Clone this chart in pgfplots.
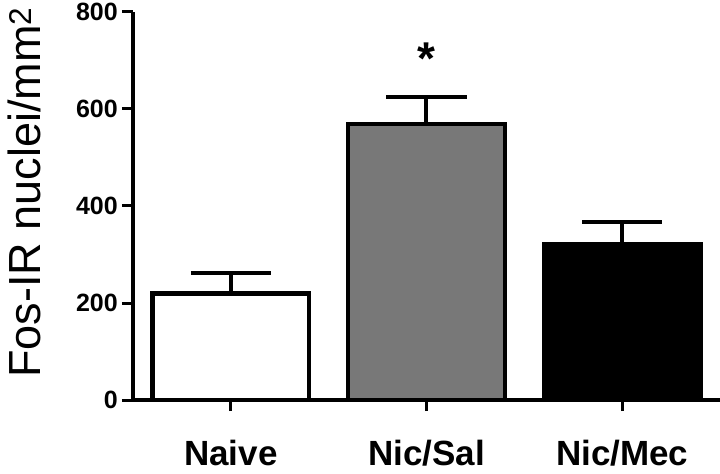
\documentclass[border=0pt]{standalone}
\usepackage{pgfplots}
\pgfplotsset{compat=1.18}
\usepackage{fontspec}
\setmainfont{Liberation Sans}
\definecolor{bargray}{HTML}{787878}
\newcommand\ytf{\fontsize{25bp}{30bp}\selectfont\bfseries}
\begin{document}
\begin{tikzpicture}
\begin{axis}[
  scale only axis,
  width=587bp, height=388bp,
  xmin=-0.5, xmax=2.5,
  ymin=0, ymax=800,
  axis x line=bottom, axis y line=left,
  axis line style={line width=4bp, -},
  every tick/.style={line width=3bp, black},
  tick align=outside,
  major tick length=11bp,
  xtick={0,1,2},
  xticklabels={Naive, Nic/Sal, Nic/Mec},
  ytick={0,200,400,600,800},
  yticklabels={{\ytf 0},{\ytf 200},{\ytf 400},{\ytf 600},{\ytf 800}},
  yticklabel style={inner sep=0pt, anchor=east, xshift=-4bp},
  xticklabel style={font=\fontsize{35bp}{40bp}\selectfont\bfseries, inner sep=0pt, anchor=north, yshift=-29bp},
  ylabel={Fos-IR nuclei/mm\textsuperscript{2}},
  ylabel style={font=\fontsize{45bp}{50bp}\selectfont, at={(axis description cs:-0.158,0.535)}, anchor=base, rotate=0},
  ybar, bar width=0.8, bar shift=0pt,
  clip=false,
  error bars/y dir=plus, error bars/y explicit,
  error bars/error bar style={line width=4bp, black},
  error bars/error mark options={line width=4bp, black, mark size=40bp, rotate=90},
]
\addplot[fill=white, draw=black, line width=4.5bp] coordinates {(0,220) +- (0,42)};
\addplot[fill=bargray, draw=black, line width=4.5bp] coordinates {(1,569) +- (0,56)};
\addplot[fill=black, draw=black, line width=4.5bp] coordinates {(2,321) +- (0,47)};
\node[font=\fontsize{46bp}{50bp}\selectfont\bfseries, inner sep=0pt] at (axis cs:1,703) {*};
\coordinate (O) at (rel axis cs:0,0);
\coordinate (T) at (rel axis cs:1,1);
\end{axis}
\pgfresetboundingbox
\path[use as bounding box] ([xshift=-133bp,yshift=-74bp]O) rectangle ([yshift=12bp]T);
\end{tikzpicture}
\end{document}
